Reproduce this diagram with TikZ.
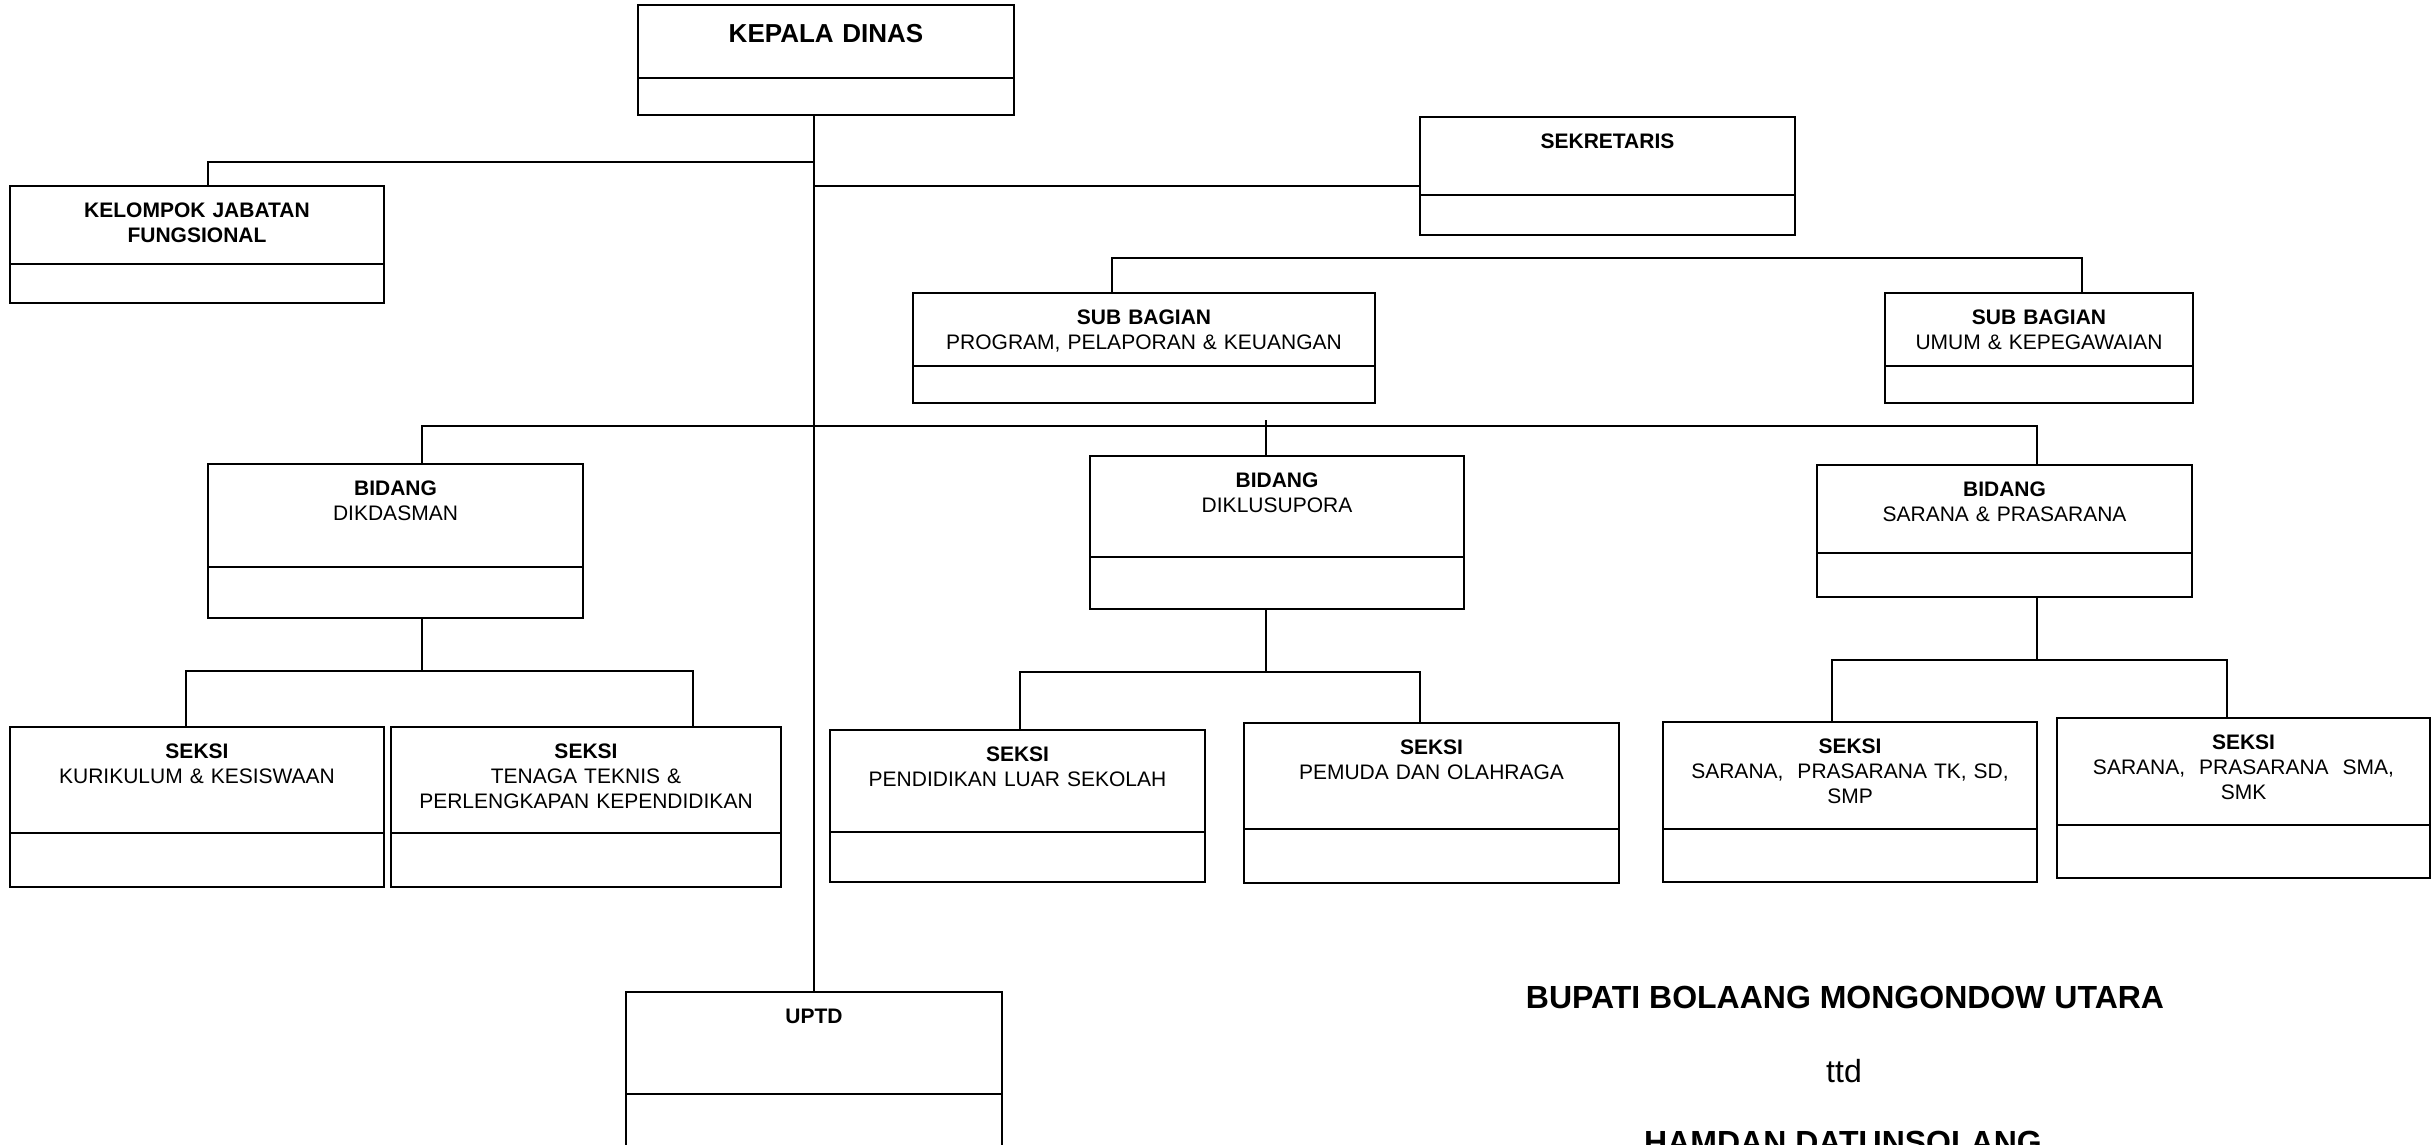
\documentclass[tikz,border=0pt]{standalone}
\usepackage{fontspec}
\setmainfont{Liberation Sans}
\usetikzlibrary{positioning}

\newcommand{\unitfont}{\fontsize{21}{25}\selectfont}
\newcommand{\headfont}{\fontsize{26}{30}\selectfont\bfseries}
\newcommand{\signfont}{\fontsize{32}{38}\selectfont}

\begin{document}
\begin{tikzpicture}[x=1pt, y=-1pt, line width=1.4pt]
    \tikzstyle{unit}=[draw, line width=2pt, inner sep=0pt, outer sep=0pt, anchor=north west, align=center, text height=31pt, font=\unitfont]
    \tikzstyle{part}=[draw, line width=2pt, inner sep=0pt, outer sep=0pt]
    \tikzstyle{sign}=[anchor=base, inner sep=0pt, font=\signfont]
    \useasboundingbox (0,0) rectangle (2432,1144);

    % pimpinan
    \node[unit, text width=376pt, text height=37pt, text depth=36pt, font=\headfont] (kadis) at (638,5) {KEPALA DINAS};
    \node[part, minimum width=376pt, minimum height=37pt, below=0pt of kadis] (kadisb) {};
    \node[unit, text width=374pt, text depth=47pt] (kjf) at (10,186) {\textbf{KELOMPOK JABATAN}\\\textbf{FUNGSIONAL}};
    \node[part, minimum width=374pt, minimum height=39pt, below=0pt of kjf] (kjfb) {};
    \node[unit, text width=375pt, text depth=47pt] (sekr) at (1420,117) {\textbf{SEKRETARIS}};
    \node[part, minimum width=375pt, minimum height=40pt, below=0pt of sekr] (sekrb) {};

    % sub bagian
    \node[unit, text width=462pt, text depth=42pt] (sbprog) at (913,293) {\textbf{SUB BAGIAN}\\PROGRAM, PELAPORAN \& KEUANGAN};
    \node[part, minimum width=462pt, minimum height=37pt, below=0pt of sbprog] (sbprogb) {};
    \node[unit, text width=308pt, text depth=42pt] (sbumum) at (1885,293) {\textbf{SUB BAGIAN}\\UMUM \& KEPEGAWAIAN};
    \node[part, minimum width=308pt, minimum height=37pt, below=0pt of sbumum] (sbumumb) {};

    % bidang
    \node[unit, text width=375pt, text depth=72pt] (dikdas) at (208,464) {\textbf{BIDANG}\\DIKDASMAN};
    \node[part, minimum width=375pt, minimum height=51pt, below=0pt of dikdas] (dikdasb) {};
    \node[unit, text width=374pt, text depth=70pt] (diklus) at (1090,456) {\textbf{BIDANG}\\DIKLUSUPORA};
    \node[part, minimum width=374pt, minimum height=52pt, below=0pt of diklus] (diklusb) {};
    \node[unit, text width=375pt, text depth=57pt] (sarana) at (1817,465) {\textbf{BIDANG}\\SARANA \& PRASARANA};
    \node[part, minimum width=375pt, minimum height=44pt, below=0pt of sarana] (saranab) {};

    % seksi
    \node[unit, text width=374pt, text depth=75pt] (kurik) at (10,727) {\textbf{SEKSI}\\KURIKULUM \& KESISWAAN};
    \node[part, minimum width=374pt, minimum height=54pt, below=0pt of kurik] (kurikb) {};
    \node[unit, text width=390pt, text depth=75pt] (tenaga) at (391,727) {\textbf{SEKSI}\\TENAGA TEKNIS \&\\PERLENGKAPAN KEPENDIDIKAN};
    \node[part, minimum width=390pt, minimum height=54pt, below=0pt of tenaga] (tenagab) {};
    \node[unit, text width=375pt, text depth=71pt] (pls) at (830,730) {\textbf{SEKSI}\\PENDIDIKAN LUAR SEKOLAH};
    \node[part, minimum width=375pt, minimum height=50pt, below=0pt of pls] (plsb) {};
    \node[unit, text width=375pt, text depth=75pt] (pemuda) at (1244,723) {\textbf{SEKSI}\\PEMUDA DAN OLAHRAGA};
    \node[part, minimum width=375pt, minimum height=54pt, below=0pt of pemuda] (pemudab) {};
    \node[unit, text width=374pt, text depth=76pt] (sartk) at (1663,722) {\textbf{SEKSI}\\SARANA,\ \ PRASARANA TK, SD,\\SMP};
    \node[part, minimum width=374pt, minimum height=53pt, below=0pt of sartk] (sartkb) {};
    \node[unit, text width=373pt, text depth=76pt] (sarsma) at (2057,718) {\textbf{SEKSI}\\SARANA,\ \ PRASARANA\ \ SMA,\\SMK};
    \node[part, minimum width=373pt, minimum height=53pt, below=0pt of sarsma] (sarsmab) {};

    % uptd
    \node[unit, text width=376pt, text depth=71pt] (uptd) at (626,992) {\textbf{UPTD}};
    \node[part, minimum width=376pt, minimum height=60pt, below=0pt of uptd] (uptdb) {};

    % pengesahan
    \node[sign] (bupati) at (1845,1008) {\textbf{BUPATI BOLAANG MONGONDOW UTARA}};
    \node[sign] (ttd) at (1844,1082) {ttd};
    \node[sign] (nama) at (1843,1153) {\textbf{HAMDAN DATUNSOLANG}};

    % garis komando
    \coordinate (j1) at ([xshift=11pt, yshift=24pt]kjf.north);
    \coordinate (s1) at ([yshift=-30pt]sekr.west);
    \coordinate (sb) at ([xshift=-32pt, yshift=35pt]sbprog.north);
    \coordinate (bid) at ([xshift=26.5pt, yshift=38pt]dikdas.north);
    \coordinate (c1) at ([xshift=26.5pt, yshift=-53pt]dikdasb.south);
    \coordinate (c2) at ([xshift=-11pt, yshift=-63pt]diklusb.south);
    \coordinate (c3) at ([xshift=32.5pt, yshift=-63pt]saranab.south);

    \draw (uptd.north) -- (uptd.north |- kadisb.south);
    \draw ([xshift=11pt]kjf.north) -- (j1) -- (j1 -| uptd.north);
    \draw (s1) -- (s1 -| uptd.north);
    \draw ([xshift=-32pt]sbprog.north) -- (sb) -| ([xshift=43pt]sbumum.north);
    \draw ([xshift=26.5pt]dikdas.north) -- (bid) -| ([xshift=32.5pt]sarana.north);
    \draw ([xshift=-11pt]diklus.north) -- ([xshift=-11pt, yshift=36pt]diklus.north);

    \draw ([xshift=26.5pt]dikdasb.south) -- (c1);
    \draw ([xshift=-11pt]kurik.north) |- (c1) -| ([xshift=107pt]tenaga.north);
    \draw ([xshift=-11pt]diklusb.south) -- (c2);
    \draw ([xshift=2.5pt]pls.north) |- (c2) -| ([xshift=-11.5pt]pemuda.north);
    \draw ([xshift=32.5pt]saranab.south) -- (c3);
    \draw ([xshift=-18pt]sartk.north) |- (c3) -| ([xshift=-16.5pt]sarsma.north);
\end{tikzpicture}
\end{document}
